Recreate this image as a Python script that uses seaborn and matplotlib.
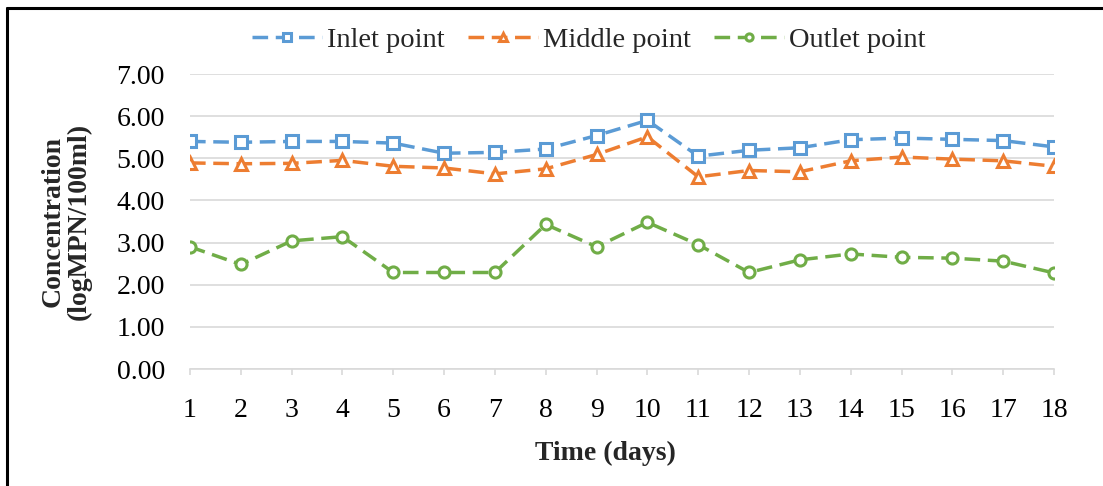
import matplotlib
matplotlib.use("Agg")
import matplotlib.pyplot as plt
from matplotlib.lines import Line2D
import seaborn as sns
import numpy as np

days = list(range(1, 19))
inlet = [5.40, 5.38, 5.40, 5.40, 5.36, 5.12, 5.14, 5.22, 5.54, 5.90,
         5.05, 5.19, 5.25, 5.44, 5.48, 5.45, 5.42, 5.27]
middle = [4.89, 4.87, 4.88, 4.95, 4.81, 4.77, 4.63, 4.75, 5.09, 5.51,
          4.56, 4.71, 4.68, 4.94, 5.03, 4.98, 4.94, 4.81]
outlet = [2.90, 2.48, 3.04, 3.14, 2.29, 2.29, 2.29, 3.43, 2.90, 3.48,
          2.95, 2.29, 2.59, 2.73, 2.65, 2.63, 2.56, 2.28]
series_names = ["Inlet point", "Middle point", "Outlet point"]
yticks = [0, 1, 2, 3, 4, 5, 6, 7]

sns.set_style("white")
plt.rcParams['font.family'] = ['Liberation Serif', 'DejaVu Serif']

W, H = 1103, 486
fig = plt.figure(figsize=(W / 100, H / 100), dpi=100)
ax = fig.add_axes([190 / W, 1 - 369 / H, (1054 - 190) / W, (369 - 74) / H])

colors = ["#5B9BD5", "#ED7D31", "#70AD47"]
markers = ["s", "^", "o"]
for vals, name, c, m in zip([inlet, middle, outlet], series_names, colors, markers):
    sns.lineplot(x=days, y=vals, ax=ax, color=c, marker=m, markersize=8,
                 markerfacecolor="white", markeredgecolor=c, markeredgewidth=2.2,
                 linewidth=2.5, linestyle=(0, (4.5, 2.2)), label=name, zorder=3)

ax.set_xlim(1, 18)
ax.set_ylim(0, 7)
ax.set_xticks(days)
ax.set_xticklabels([str(d) for d in days])
ax.set_yticks(yticks)
ax.set_yticklabels([f"{v:.2f}" for v in yticks])
ax.grid(axis="y", color="#D9D9D9", linewidth=1.2)
ax.grid(axis="x", visible=False)
for s in ["top", "right", "left"]:
    ax.spines[s].set_visible(False)
ax.spines["bottom"].set_color("#D9D9D9")
ax.spines["bottom"].set_linewidth(1.2)
ax.tick_params(axis="x", length=4, width=1.2, color="#D9D9D9", pad=17,
               labelsize=20, labelcolor="black", bottom=True)
ax.tick_params(axis="y", length=0, pad=18, labelsize=20, labelcolor="black")

ax.set_xlabel("Time (days)", fontsize=20, fontweight="bold")
ax.xaxis.set_label_coords((605 - 190) / 864, -0.245)
ax.set_ylabel("Concentration\n(logMPN/100ml)", fontsize=20, fontweight="bold",
              linespacing=1.05)
ax.yaxis.set_label_coords(-0.114, 0.5)

if ax.get_legend():
    ax.get_legend().remove()
handles, labels = ax.get_legend_handles_labels()
fig.legend(handles, labels, loc="center", bbox_to_anchor=(589 / W, 1 - 40 / H),
           ncol=3, frameon=False, fontsize=20.5, handlelength=2.45,
           handletextpad=0.2, columnspacing=0.8, markerscale=0.65)

# outer border (left and top)
fig.add_artist(Line2D([7 / W, 7 / W], [0, 1 - 8 / H], transform=fig.transFigure,
                      color="black", linewidth=2.2))
fig.add_artist(Line2D([7 / W, 1], [1 - 8 / H, 1 - 8 / H], transform=fig.transFigure,
                      color="black", linewidth=2.2))

fig.savefig("out.png", dpi=100)
